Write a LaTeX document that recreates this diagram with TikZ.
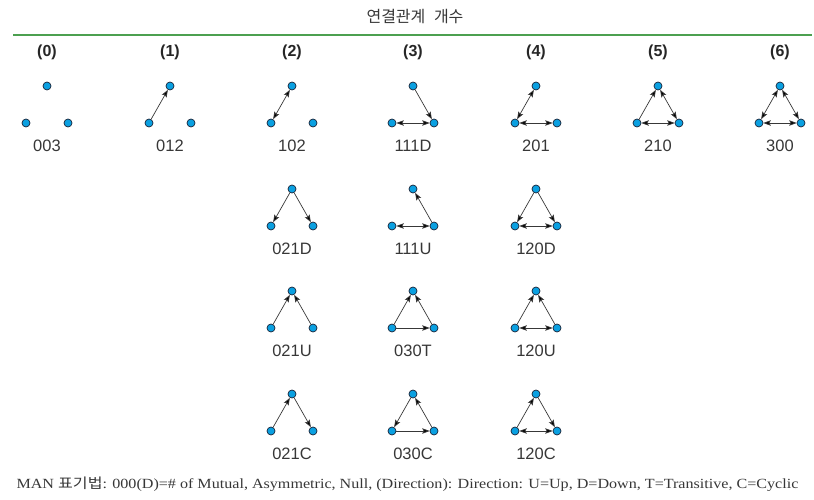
\documentclass[tikz,border=0pt]{standalone}
\usepackage{fontspec}
\setmainfont{Liberation Serif}
\setsansfont{Liberation Sans}
\newfontfamily\krfont{Noto Sans CJK KR}
\usetikzlibrary{arrows.meta}
\definecolor{dotblue}{RGB}{10,160,225}
\definecolor{dotline}{RGB}{25,35,55}
\definecolor{rulegreen}{RGB}{76,160,80}
\definecolor{txtgray}{RGB}{55,55,55}

% one triad: top, left, right and its MAN label
\newcommand{\triad}[4]{%
  \node[dot] (#1t) at (#2,#3) {};
  \node[dot] (#1l) at (#2-21,#3+37) {};
  \node[dot] (#1r) at (#2+21,#3+37) {};
  \node[lab] (#1n) at (#2,#3+60) {#4};
}

\begin{document}
\begin{tikzpicture}[x=1pt, y=-1pt,
  dot/.style={circle, draw=dotline, fill=dotblue, line width=0.7pt, inner sep=0pt, minimum size=8pt},
  lab/.style={font=\sffamily\fontsize{16.5}{17}\selectfont, text=txtgray},
  head/.style={font=\sffamily\bfseries\fontsize{16}{17}\selectfont, text=black!85},
  arr/.style={draw=black!78, line width=0.7pt},
  >={Stealth[length=7.5pt,width=5.5pt,inset=1.5pt,fill=black]}]
  \useasboundingbox (0,0) rectangle (814,500);
  \node[font=\krfont\fontsize{16}{16}\selectfont, text=txtgray] (title) at (415,17) {연결관계\hspace{5pt} 개수};
  \draw[rulegreen, line width=2.2pt] (13,35) -- (812,35);
  \foreach \k/\x in {0/47,1/170,2/292,3/413,4/536,5/658,6/780}
    \node[head] (h\k) at (\x,52) {(\k)};

  % row 1
  \triad{a}{47}{86}{003}
  \triad{b}{170}{86}{012}
  \triad{c}{292}{86}{102}
  \triad{d}{413}{86}{111D}
  \triad{e}{536}{86}{201}
  \triad{f}{658}{86}{210}
  \triad{g}{780}{86}{300}
  \draw[arr,->] (bl) -- (bt);
  \draw[arr,<->] (cl) -- (ct);
  \draw[arr,->] (dt) -- (dr); \draw[arr,<->] (dl) -- (dr);
  \draw[arr,<->] (et) -- (el); \draw[arr,<->] (el) -- (er);
  \draw[arr,->] (fl) -- (ft); \draw[arr,<->] (ft) -- (fr); \draw[arr,<->] (fl) -- (fr);
  \draw[arr,<->] (gl) -- (gt); \draw[arr,<->] (gt) -- (gr); \draw[arr,<->] (gl) -- (gr);

  % row 2
  \triad{h}{292}{189}{021D}
  \triad{i}{413}{189}{111U}
  \triad{j}{536}{189}{120D}
  \draw[arr,->] (ht) -- (hl); \draw[arr,->] (ht) -- (hr);
  \draw[arr,->] (ir) -- (it); \draw[arr,<->] (il) -- (ir);
  \draw[arr,->] (jt) -- (jl); \draw[arr,->] (jt) -- (jr); \draw[arr,<->] (jl) -- (jr);

  % row 3
  \triad{k}{292}{291}{021U}
  \triad{l}{413}{291}{030T}
  \triad{m}{536}{291}{120U}
  \draw[arr,->] (kl) -- (kt); \draw[arr,->] (kr) -- (kt);
  \draw[arr,->] (ll) -- (lt); \draw[arr,->] (lr) -- (lt); \draw[arr,->] (ll) -- (lr);
  \draw[arr,->] (ml) -- (mt); \draw[arr,->] (mr) -- (mt); \draw[arr,<->] (ml) -- (mr);

  % row 4
  \triad{n}{292}{394}{021C}
  \triad{o}{413}{394}{030C}
  \triad{p}{536}{394}{120C}
  \draw[arr,->] (nl) -- (nt); \draw[arr,->] (nt) -- (nr);
  \draw[arr,->] (ot) -- (ol); \draw[arr,->] (ol) -- (or); \draw[arr,->] (or) -- (ot);
  \draw[arr,->] (pl) -- (pt); \draw[arr,->] (pt) -- (pr); \draw[arr,<->] (pl) -- (pr);

  \node[anchor=west, font=\fontsize{14}{14}\selectfont, text=txtgray] (note) at (13,484)
    {\scalebox{1.15}[1]{MAN {\krfont 표기법}: 000(D)=\# of Mutual, Asymmetric, Null, (Direction): Direction: U=Up, D=Down, T=Transitive, C=Cyclic}};
\end{tikzpicture}
\end{document}
